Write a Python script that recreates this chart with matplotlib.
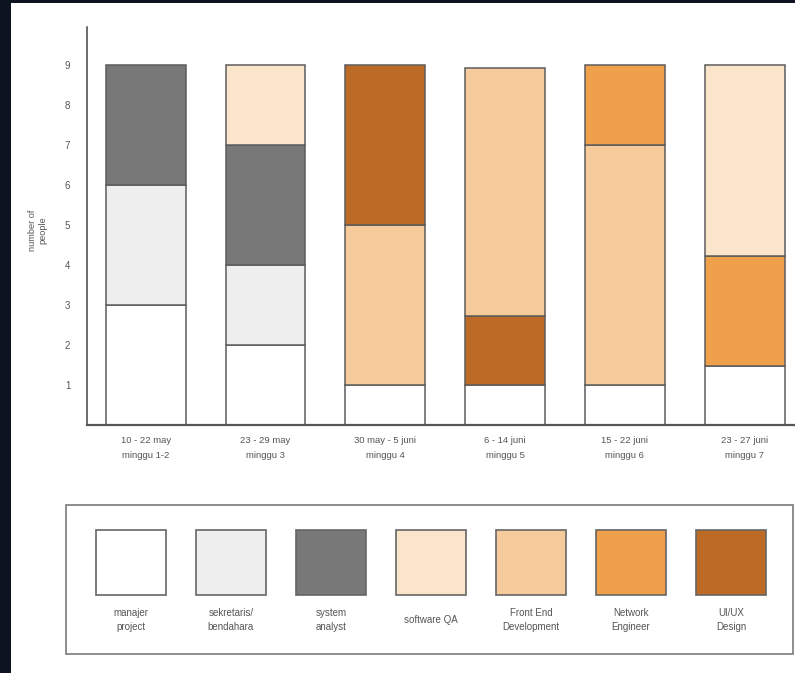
import matplotlib.pyplot as plt
from matplotlib.patches import Rectangle

plt.rcParams['font.family'] = ['Liberation Sans', 'DejaVu Sans']

# weeks (x categories)
weeks = ["10 - 22 may\nminggu 1-2", "23 - 29 may\nminggu 3", "30 may - 5 juni\nminggu 4",
         "6 - 14 juni\nminggu 5", "15 - 22 juni\nminggu 6", "23 - 27 juni\nminggu 7"]

# roles + colors
roles = ["manajer\nproject", "sekretaris/\nbendahara", "system\nanalyst", "software QA",
         "Front End\nDevelopment", "Network\nEngineer", "UI/UX\nDesign"]
colors = ["#ffffff", "#eeeeee", "#787878", "#fbe5ca", "#f6cb9c", "#efa04b", "#bd6a27"]

# stacked segments per week: list of (role index, value), bottom to top
stacks = [
    [(0, 3), (1, 3), (2, 3)],
    [(0, 2), (1, 2), (2, 3), (3, 2)],
    [(0, 1), (4, 4), (6, 4)],
    [(0, 1), (6, 1.73), (4, 6.2)],
    [(0, 1), (4, 6), (5, 2)],
    [(0, 1.48), (5, 2.74), (3, 4.78)],
]
yticks = [1, 2, 3, 4, 5, 6, 7, 8, 9]

W, H = 795, 673
fig = plt.figure(figsize=(W / 100, H / 100), dpi=100)
fig.patch.set_facecolor("#0e1321")

# background layer in pixel coords (white panel + legend)
bg = fig.add_axes([0, 0, 1, 1])
bg.set_xlim(0, W)
bg.set_ylim(H, 0)
bg.axis("off")
bg.add_patch(Rectangle((11, 3), W - 11, H - 3, facecolor="white", edgecolor="none"))

# legend box
bg.add_patch(Rectangle((66, 505), 727, 149, facecolor="white", edgecolor="#7a7a7a", lw=1.2))
for i, (r, c) in enumerate(zip(roles, colors)):
    x0 = 96 + i * 100
    bg.add_patch(Rectangle((x0, 530), 70, 65, facecolor=c, edgecolor="#666666", lw=1.2))
    bg.text(x0 + 35, 620, r, ha="center", va="center", fontsize=7, color="#555555",
            linespacing=1.6)

# main chart
ax = fig.add_axes([87 / W, 1 - 425 / H, 1 - 87 / W, 398 / H])
ax.patch.set_alpha(0)
for i, st in enumerate(stacks):
    bottom = 0
    for ri, v in st:
        ax.bar(i, v, bottom=bottom, width=0.667, color=colors[ri],
               edgecolor="#5c5c5c", linewidth=1.1)
        bottom += v

ax.set_xlim(-0.49, 5.42)
ax.set_ylim(0, 9.95)
ax.set_yticks(yticks)
ax.set_yticklabels([str(t) for t in yticks], fontsize=7, color="#555555")
ax.set_xticks(range(len(weeks)))
ax.set_xticklabels(weeks, fontsize=6.8, color="#555555", linespacing=1.8)
ax.tick_params(axis="y", length=0, pad=12)
ax.tick_params(axis="x", length=0, pad=8)
for s in ["top", "right"]:
    ax.spines[s].set_visible(False)
ax.spines["left"].set_color("#444444")
ax.spines["left"].set_linewidth(1.1)
ax.spines["bottom"].set_color("#555555")
ax.spines["bottom"].set_linewidth(1.6)

bg.text(38, 230, "number of\npeople", rotation=90, ha="center", va="center",
        fontsize=6.6, color="#555555")

fig.savefig("out.png", dpi=100, facecolor=fig.get_facecolor())
